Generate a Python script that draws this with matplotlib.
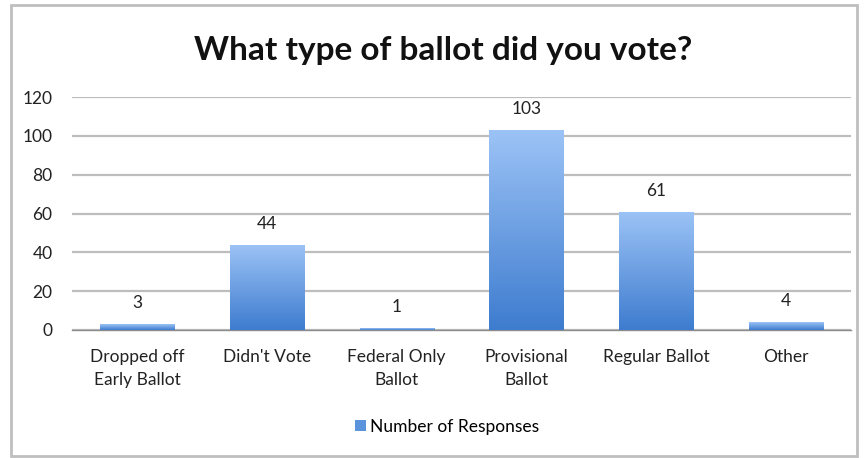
import matplotlib
import numpy as np

matplotlib.use("Agg")
import matplotlib.pyplot as plt  # noqa: E402
from matplotlib.colors import LinearSegmentedColormap  # noqa: E402
from matplotlib.patches import Rectangle  # noqa: E402

categories = [
    "Dropped off\nEarly Ballot",
    "Didn't Vote",
    "Federal Only\nBallot",
    "Provisional\nBallot",
    "Regular Ballot",
    "Other",
]
responses = [3, 44, 1, 103, 61, 4]
y_ticks = [0, 20, 40, 60, 80, 100, 120]
series_name = "Number of Responses"
title = "What type of ballot did you vote?"

plt.rcParams["font.family"] = ["Lato", "DejaVu Sans"]

fig = plt.figure(figsize=(8.67, 4.58), dpi=100)
ax = fig.add_axes([0.083, 0.2795, 0.8985, 0.5085])

x = np.arange(len(categories))
bars = ax.bar(x, responses, width=0.57, color="#5B93DC", zorder=2,
              label=series_name)

# vertical gradient: light at top, darker at bottom
grad_cmap = LinearSegmentedColormap.from_list("bar", ["#3E7CCF", "#9CC3F6"])
gradient = np.linspace(0, 1, 256).reshape(-1, 1)
for bar in bars:
    bx, by = bar.get_x(), bar.get_y()
    bw, bh = bar.get_width(), bar.get_height()
    img = ax.imshow(gradient, cmap=grad_cmap, origin="lower", aspect="auto",
                    extent=(bx, bx + bw, by, by + bh), zorder=3)
    img.set_clip_path(bar)

for xi, val in zip(x, responses):
    ax.text(xi, val + 10.8, str(val), ha="center", va="center",
            fontsize=12.5, color="#222222", zorder=4)

ax.set_xlim(-0.5, len(categories) - 0.5)
ax.set_ylim(0, 120)
ax.set_yticks(y_ticks)
ax.set_xticks(x)
ax.set_xticklabels(categories, fontsize=12.5, color="#222222", linespacing=1.5)
ax.tick_params(axis="y", labelsize=12.5, colors="#222222", length=0, pad=14)
ax.tick_params(axis="x", length=0, pad=14)
ax.grid(axis="y", color="#BDBDBD", linewidth=1.6, zorder=0)
for side in ["top", "right", "left"]:
    ax.spines[side].set_visible(False)
ax.spines["bottom"].set_color("#8C8C8C")
ax.spines["bottom"].set_linewidth(1.0)

fig.text(0.511, 0.89, title, ha="center", va="center", fontsize=24,
         fontweight="bold", color="#111111")

handle = Rectangle((0, 0), 1, 1, facecolor="#5B93DC")
fig.legend([handle], [series_name], loc="center", bbox_to_anchor=(0.516, 0.068),
           frameon=False, fontsize=12.5, handlelength=0.6, handleheight=0.6,
           handletextpad=0.25)

fig.add_artist(Rectangle((0.0127, 0.004), 0.976, 0.985, transform=fig.transFigure,
                         fill=False, edgecolor="#BFBFBF", linewidth=2))

fig.savefig("out.png", dpi=100)
